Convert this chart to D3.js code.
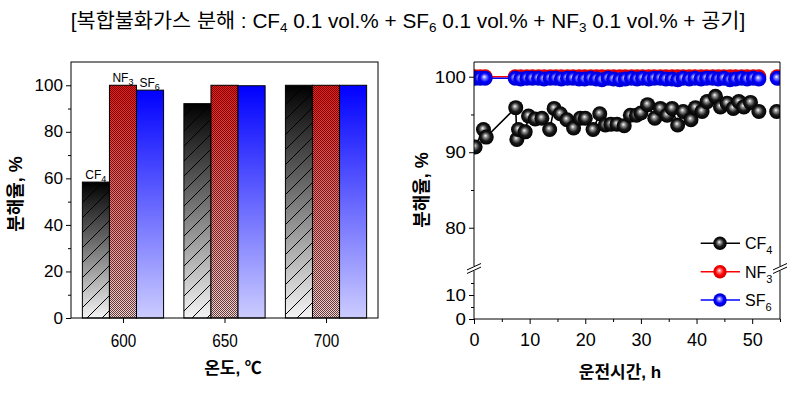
<!doctype html>
<html>
<head>
<meta charset="utf-8"/>
<style>
    html, body { margin: 0; padding: 0; background: #fff; }
    svg { display: block; }
    text { font-family: 'Liberation Sans', Arial, 'Noto Sans CJK KR', sans-serif; fill: #000; }
    .kr { font-family: 'Liberation Sans', Arial, 'Noto Sans CJK KR', sans-serif; font-weight: bold; }
</style>
<script src="https://cdn.jsdelivr.net/npm/d3@7"></script>
</head>
<body>
<svg id="chart" width="800" height="394"></svg>
<script>
// --- data: bar chart (decomposition vs temperature) ---
var temps = [600, 650, 700];
var barSeries = ["CF4", "NF3", "SF6"];
var cf4Bar = [58.4, 92.1, 100];
var nf3Bar = [100, 100, 100];
var sf6Bar = [97.9, 99.8, 100];

// --- data: time series (decomposition vs operating time), null = line break ---
var cf4Time = [0.2, 1.7, 2.2, 7.5, 7.7, 8.0, 9.2, 9.8, 11.0, 12.2,
    13.6, 14.4, 15.5, 16.7, 17.9, 19.1, 20.0, 21.4, 22.6, 23.6,
    24.6, 25.7, 27.0, 28.1, 29.2, 30.0, 31.2, 32.5, 33.5, 34.7,
    35.6, 36.6, 37.6, 39.0, 39.8, 41.0, 41.9, 43.4, 44.3, 45.5,
    46.6, 47.6, 48.5, 49.7, 51.2, null, 54.4];
var cf4Value = [90.7, 93.0, 92.0, 95.9, 91.7, 93.0, 92.7, 94.8, 94.4, 94.5,
    93.0, 95.8, 95.1, 94.3, 93.2, 94.5, 94.5, 93.0, 95.1, 93.6,
    93.7, 93.7, 93.5, 94.9, 94.9, 95.2, 96.3, 94.5, 95.8, 94.9,
    95.8, 93.6, 95.4, 94.3, 95.9, 95.4, 96.7, 97.4, 96.0, 96.5,
    95.8, 96.7, 96.0, 96.6, 95.4, null, 95.4];

var gasTime = [0.2, 1.1, 2.0,
    7.4, 8.4, 9.5, 10.5, 11.6, 12.6, 13.7, 14.7, 15.7, 16.8,
    17.8, 18.9, 19.9, 21.0, 22.0, 23.0, 24.1, 25.1, 26.2, 27.2,
    28.3, 29.3, 30.3, 31.4, 32.4, 33.5, 34.5, 35.6, 36.6, 37.6,
    38.7, 39.7, 40.8, 41.8, 42.9, 43.9, 44.9, 46.0, 47.0, 48.1,
    49.1, 50.2, 51.2,
    null, 54.5];
var nf3Value = [100, 100, 100,
    100, 100, 100, 100, 100, 100, 100, 100, 100, 100,
    100, 100, 100, 100, 100, 100, 100, 100, 100, 100,
    100, 100, 100, 100, 100, 100, 100, 100, 100, 100,
    100, 100, 100, 100, 100, 100, 100, 100, 100, 100,
    100, 100, 100,
    null, 100];
var sf6Value = [99.8, 99.8, 99.8,
    99.8, 99.7, 99.8, 99.8, 99.8, 99.7, 99.8, 99.8, 99.7, 99.8,
    99.8, 99.7, 99.7, 99.8, 99.7, 99.6, 99.8, 99.7, 99.6, 99.7,
    99.8, 99.7, 99.8, 99.7, 99.8, 99.8, 99.7, 99.7, 99.6, 99.8,
    99.7, 99.8, 99.7, 99.8, 99.8, 99.7, 99.8, 99.6, 99.7, 99.8,
    99.7, 99.8, 99.7,
    null, 99.8];

var legendNames = ["CF4", "NF3", "SF6"];

var svg = d3.select("#chart");
svg.append("rect").attr("width", 800).attr("height", 394).attr("fill", "#fff");
var defs = svg.append("defs");

// subscript helper: "CF4" -> CF + small 4
function chemText(sel, name, subSize, shift) {
    var base = name.slice(0, -1), sub = name.slice(-1);
    sel.append("tspan").text(base);
    sel.append("tspan").attr("font-size", subSize).attr("dy", shift).text(sub);
}

// ---------- title ----------
var title = svg.append("text").attr("x", 408).attr("y", 28)
    .attr("text-anchor", "middle").attr("font-size", 20);
var titleParts = [["[복합불화가스 분해 : CF", "4"], [" 0.1 vol.% + SF", "6"], [" 0.1 vol.% + NF", "3"], [" 0.1 vol.% + 공기]", null]];
titleParts.forEach(function(p, i) {
    title.append("tspan").attr("dy", i === 0 ? 0 : -4).text(p[0]);
    if (p[1]) title.append("tspan").attr("font-size", 13).attr("dy", 4).text(p[1]);
});
var tw = title.node().getComputedTextLength();
title.attr("transform", "translate(408,0) scale(" + (675 / tw) + ",1) translate(-408,0)");

// ---------- gradients & patterns ----------
function vGrad(id, top, bottom) {
    var g = defs.append("linearGradient").attr("id", id)
        .attr("x1", 0).attr("y1", 0).attr("x2", 0).attr("y2", 1);
    g.append("stop").attr("offset", "0%").attr("stop-color", top);
    g.append("stop").attr("offset", "100%").attr("stop-color", bottom);
}
vGrad("gCF4", "#000", "#f4f4f4");
vGrad("gNF3", "#ff1010", "#f2d4d4");
vGrad("gSF6", "#0000ff", "#ccccff");

var hatch = defs.append("pattern").attr("id", "hatch").attr("patternUnits", "userSpaceOnUse")
    .attr("width", 15).attr("height", 15);
hatch.append("path").attr("d", "M0,15L15,0M-3,3L3,-3M12,18L18,12")
    .attr("stroke", "#000").attr("stroke-width", 1);

// dense checker texture for NF3 bars
var grid = defs.append("pattern").attr("id", "grid").attr("patternUnits", "userSpaceOnUse")
    .attr("width", 2).attr("height", 2);
grid.append("path").attr("d", "M0,0h1v1h-1zM1,1h1v1h-1z").attr("fill", "rgba(35,0,0,0.7)");

function ball(id, hi, mid, edge) {
    var g = defs.append("radialGradient").attr("id", id)
        .attr("cx", "50%").attr("cy", "50%").attr("r", "50%").attr("fx", "44%").attr("fy", "40%");
    g.append("stop").attr("offset", "0%").attr("stop-color", "#fff");
    g.append("stop").attr("offset", "22%").attr("stop-color", hi);
    g.append("stop").attr("offset", "60%").attr("stop-color", mid);
    g.append("stop").attr("offset", "100%").attr("stop-color", edge);
}
ball("bCF4", "#9a9a9a", "#1a1a1a", "#000");
ball("bNF3", "#ff8a8a", "#ff0000", "#d00000");
ball("bSF6", "#8a8aff", "#0000ff", "#0000cc");

// ---------- left chart: bars ----------
var L = {left: 71, right: 378, top: 62, bottom: 318};
var xL = d3.scaleLinear().domain([574.4, 725.6]).range([L.left, L.right]);
var yL = d3.scaleLinear().domain([0, 110]).range([L.bottom, L.top]);
var band = d3.scaleBand().domain(barSeries).range([-20, 20]);

var barValues = {CF4: cf4Bar, NF3: nf3Bar, SF6: sf6Bar};
var barRows = [];
temps.forEach(function(t, i) {
    barSeries.forEach(function(s) { barRows.push({t: t, s: s, v: barValues[s][i]}); });
});

var gL = svg.append("g");
var bars = gL.selectAll("g.bar").data(barRows).enter().append("g").attr("class", "bar");
function bx(d) { return xL(d.t + band(d.s)); }
function bw() { return xL(574.4 + band.bandwidth()) - xL(574.4); }
bars.append("rect")
    .attr("x", bx).attr("width", bw).attr("y", function(d) { return yL(d.v); })
    .attr("height", function(d) { return yL(0) - yL(d.v); })
    .attr("fill", function(d) { return "url(#g" + d.s + ")"; });
bars.filter(function(d) { return d.s !== "SF6"; }).append("rect")
    .attr("x", bx).attr("width", bw).attr("y", function(d) { return yL(d.v); })
    .attr("height", function(d) { return yL(0) - yL(d.v); })
    .attr("fill", function(d) { return d.s === "CF4" ? "url(#hatch)" : "url(#grid)"; });
bars.append("rect")
    .attr("x", bx).attr("width", bw).attr("y", function(d) { return yL(d.v); })
    .attr("height", function(d) { return yL(0) - yL(d.v); })
    .attr("fill", "none").attr("stroke", "#000").attr("stroke-width", 1);

// labels above the 600 group
barRows.filter(function(d) { return d.t === 600; }).forEach(function(d) {
    var lab = gL.append("text").attr("x", bx(d) + 3).attr("y", yL(d.v) - 3).attr("font-size", 12);
    chemText(lab, d.s, 9, 3);
});

// frame + axes
gL.append("rect").attr("x", L.left).attr("y", L.top).attr("width", L.right - L.left)
    .attr("height", L.bottom - L.top).attr("fill", "none").attr("stroke", "#000").attr("stroke-width", 1);

function styleAxis(g) {
    g.select(".domain").remove();
    g.selectAll("line").attr("stroke", "#000");
}
var yAxL = gL.append("g").attr("transform", "translate(" + L.left + ",0)")
    .call(d3.axisLeft(yL).tickValues([0, 20, 40, 60, 80, 100]).tickSize(5).tickPadding(3));
yAxL.call(styleAxis);
gL.append("g").attr("transform", "translate(" + L.left + ",0)")
    .call(d3.axisLeft(yL).tickValues([10, 30, 50, 70, 90]).tickSize(3).tickFormat(""))
    .call(styleAxis);
var xAxL = gL.append("g").attr("transform", "translate(0," + L.bottom + ")")
    .call(d3.axisBottom(xL).tickValues(temps).tickSize(5).tickPadding(11));
xAxL.call(styleAxis);

function stretchLabels(axisG, fontSize, sx) {
    axisG.selectAll("text").each(function() {
        var t = d3.select(this);
        var x = +t.attr("x") || 0;
        t.attr("font-size", fontSize).attr("font-family", null)
            .attr("x", 0).attr("transform", "translate(" + x + ",0) scale(" + sx + ",1)");
    });
}
stretchLabels(yAxL, 16, 1.07);
stretchLabels(xAxL, 18, 0.85);

gL.append("text").attr("class", "kr").attr("font-size", 18)
    .attr("transform", "translate(22,194) rotate(-90)").attr("text-anchor", "middle").text("분해율, %");
gL.append("text").attr("class", "kr").attr("font-size", 17)
    .attr("x", 233).attr("y", 374).attr("text-anchor", "middle").text("온도, ℃");

// ---------- right chart: time series with broken y axis ----------
var R = {left: 474, right: 780, top: 62, bottom: 319, breakTop: 266, breakBottom: 271};
var xR = d3.scaleLinear().domain([0, 55]).range([R.left, R.right]);
var yUp = d3.scaleLinear().domain([75, 102]).range([265.5, 61.6]);
var yLo = d3.scaleLinear().domain([0, 20]).range([R.bottom, R.breakBottom]);
function yR(v) { return v >= 50 ? yUp(v) : yLo(v); }

var gR = svg.append("g");
defs.append("clipPath").attr("id", "clipR").append("rect")
    .attr("x", R.left).attr("y", R.top).attr("width", R.right - R.left).attr("height", R.bottom - R.top);
var plotR = gR.append("g").attr("clip-path", "url(#clipR)");

function toPts(ts, vs) {
    return ts.map(function(t, i) { return {t: t, v: vs[i]}; });
}
var seriesR = [
    {name: "NF3", color: "#ff0000", pts: toPts(gasTime, nf3Value)},
    {name: "SF6", color: "#0000ff", pts: toPts(gasTime, sf6Value)},
    {name: "CF4", color: "#000000", pts: toPts(cf4Time, cf4Value)}
];
var lineR = d3.line()
    .defined(function(d) { return d.v !== null; })
    .x(function(d) { return xR(d.t); })
    .y(function(d) { return yR(d.v); });

seriesR.forEach(function(s) {
    plotR.append("path").attr("d", lineR(s.pts)).attr("fill", "none")
        .attr("stroke", s.color).attr("stroke-width", 1.6);
});
seriesR.forEach(function(s) {
    plotR.selectAll(null).data(s.pts.filter(function(d) { return d.v !== null; }))
        .enter().append("circle")
        .attr("cx", function(d) { return xR(d.t); })
        .attr("cy", function(d) { return yR(d.v); })
        .attr("r", 7.5)
        .attr("fill", "url(#b" + s.name + ")");
});

// frame with break
var fr = gR.append("g").attr("stroke", "#000").attr("stroke-width", 1).attr("fill", "none");
fr.append("line").attr("x1", R.left).attr("x2", R.right).attr("y1", R.top).attr("y2", R.top);
fr.append("line").attr("x1", R.left).attr("x2", R.right).attr("y1", R.bottom).attr("y2", R.bottom);
[R.left, R.right].forEach(function(x) {
    fr.append("line").attr("x1", x).attr("x2", x).attr("y1", R.top).attr("y2", R.breakTop);
    fr.append("line").attr("x1", x).attr("x2", x).attr("y1", R.breakBottom).attr("y2", R.bottom);
    [-1.8, 1.8].forEach(function(o) {
        var cy = (R.breakTop + R.breakBottom) / 2 + o;
        fr.append("line").attr("x1", x - 7).attr("x2", x + 7)
            .attr("y1", cy + 3.2).attr("y2", cy - 3.2);
    });
});

var yAxUp = gR.append("g").attr("transform", "translate(" + R.left + ",0)")
    .call(d3.axisLeft(yUp).tickValues([80, 90, 100]).tickSize(5).tickPadding(3));
yAxUp.call(styleAxis);
gR.append("g").attr("transform", "translate(" + R.left + ",0)")
    .call(d3.axisLeft(yUp).tickValues([85, 95]).tickSize(3).tickFormat("")).call(styleAxis);
var yAxLo = gR.append("g").attr("transform", "translate(" + R.left + ",0)")
    .call(d3.axisLeft(yLo).tickValues([0, 10]).tickSize(5).tickPadding(3));
yAxLo.call(styleAxis);
gR.append("g").attr("transform", "translate(" + R.left + ",0)")
    .call(d3.axisLeft(yLo).tickValues([5, 15]).tickSize(3).tickFormat("")).call(styleAxis);
var xAxR = gR.append("g").attr("transform", "translate(0," + R.bottom + ")")
    .call(d3.axisBottom(xR).tickValues([0, 10, 20, 30, 40, 50]).tickSize(5).tickPadding(9));
xAxR.call(styleAxis);
gR.append("g").attr("transform", "translate(0," + R.bottom + ")")
    .call(d3.axisBottom(xR).tickValues([5, 15, 25, 35, 45, 55]).tickSize(3).tickFormat("")).call(styleAxis);

stretchLabels(yAxUp, 17, 1.1);
stretchLabels(yAxLo, 17, 1.1);
stretchLabels(xAxR, 18, 1.0);

gR.append("text").attr("class", "kr").attr("font-size", 18)
    .attr("transform", "translate(428,190) rotate(-90)").attr("text-anchor", "middle").text("분해율, %");
gR.append("text").attr("class", "kr").attr("font-size", 17)
    .attr("x", 620).attr("y", 378).attr("text-anchor", "middle").text("운전시간, h");

// legend
var legY = [243.3, 271.7, 300];
var legColor = {CF4: "#000", NF3: "#ff0000", SF6: "#0000ff"};
legendNames.forEach(function(n, i) {
    var g = gR.append("g").attr("transform", "translate(0," + legY[i] + ")");
    g.append("line").attr("x1", 700.7).attr("x2", 740).attr("stroke", legColor[n]).attr("stroke-width", 1.6);
    g.append("circle").attr("cx", 720).attr("r", 6.7).attr("fill", "url(#b" + n + ")");
    var t = g.append("text").attr("x", 745).attr("y", 6).attr("font-size", 16);
    chemText(t, n, 11, 5);
});
</script>
</body>
</html>
